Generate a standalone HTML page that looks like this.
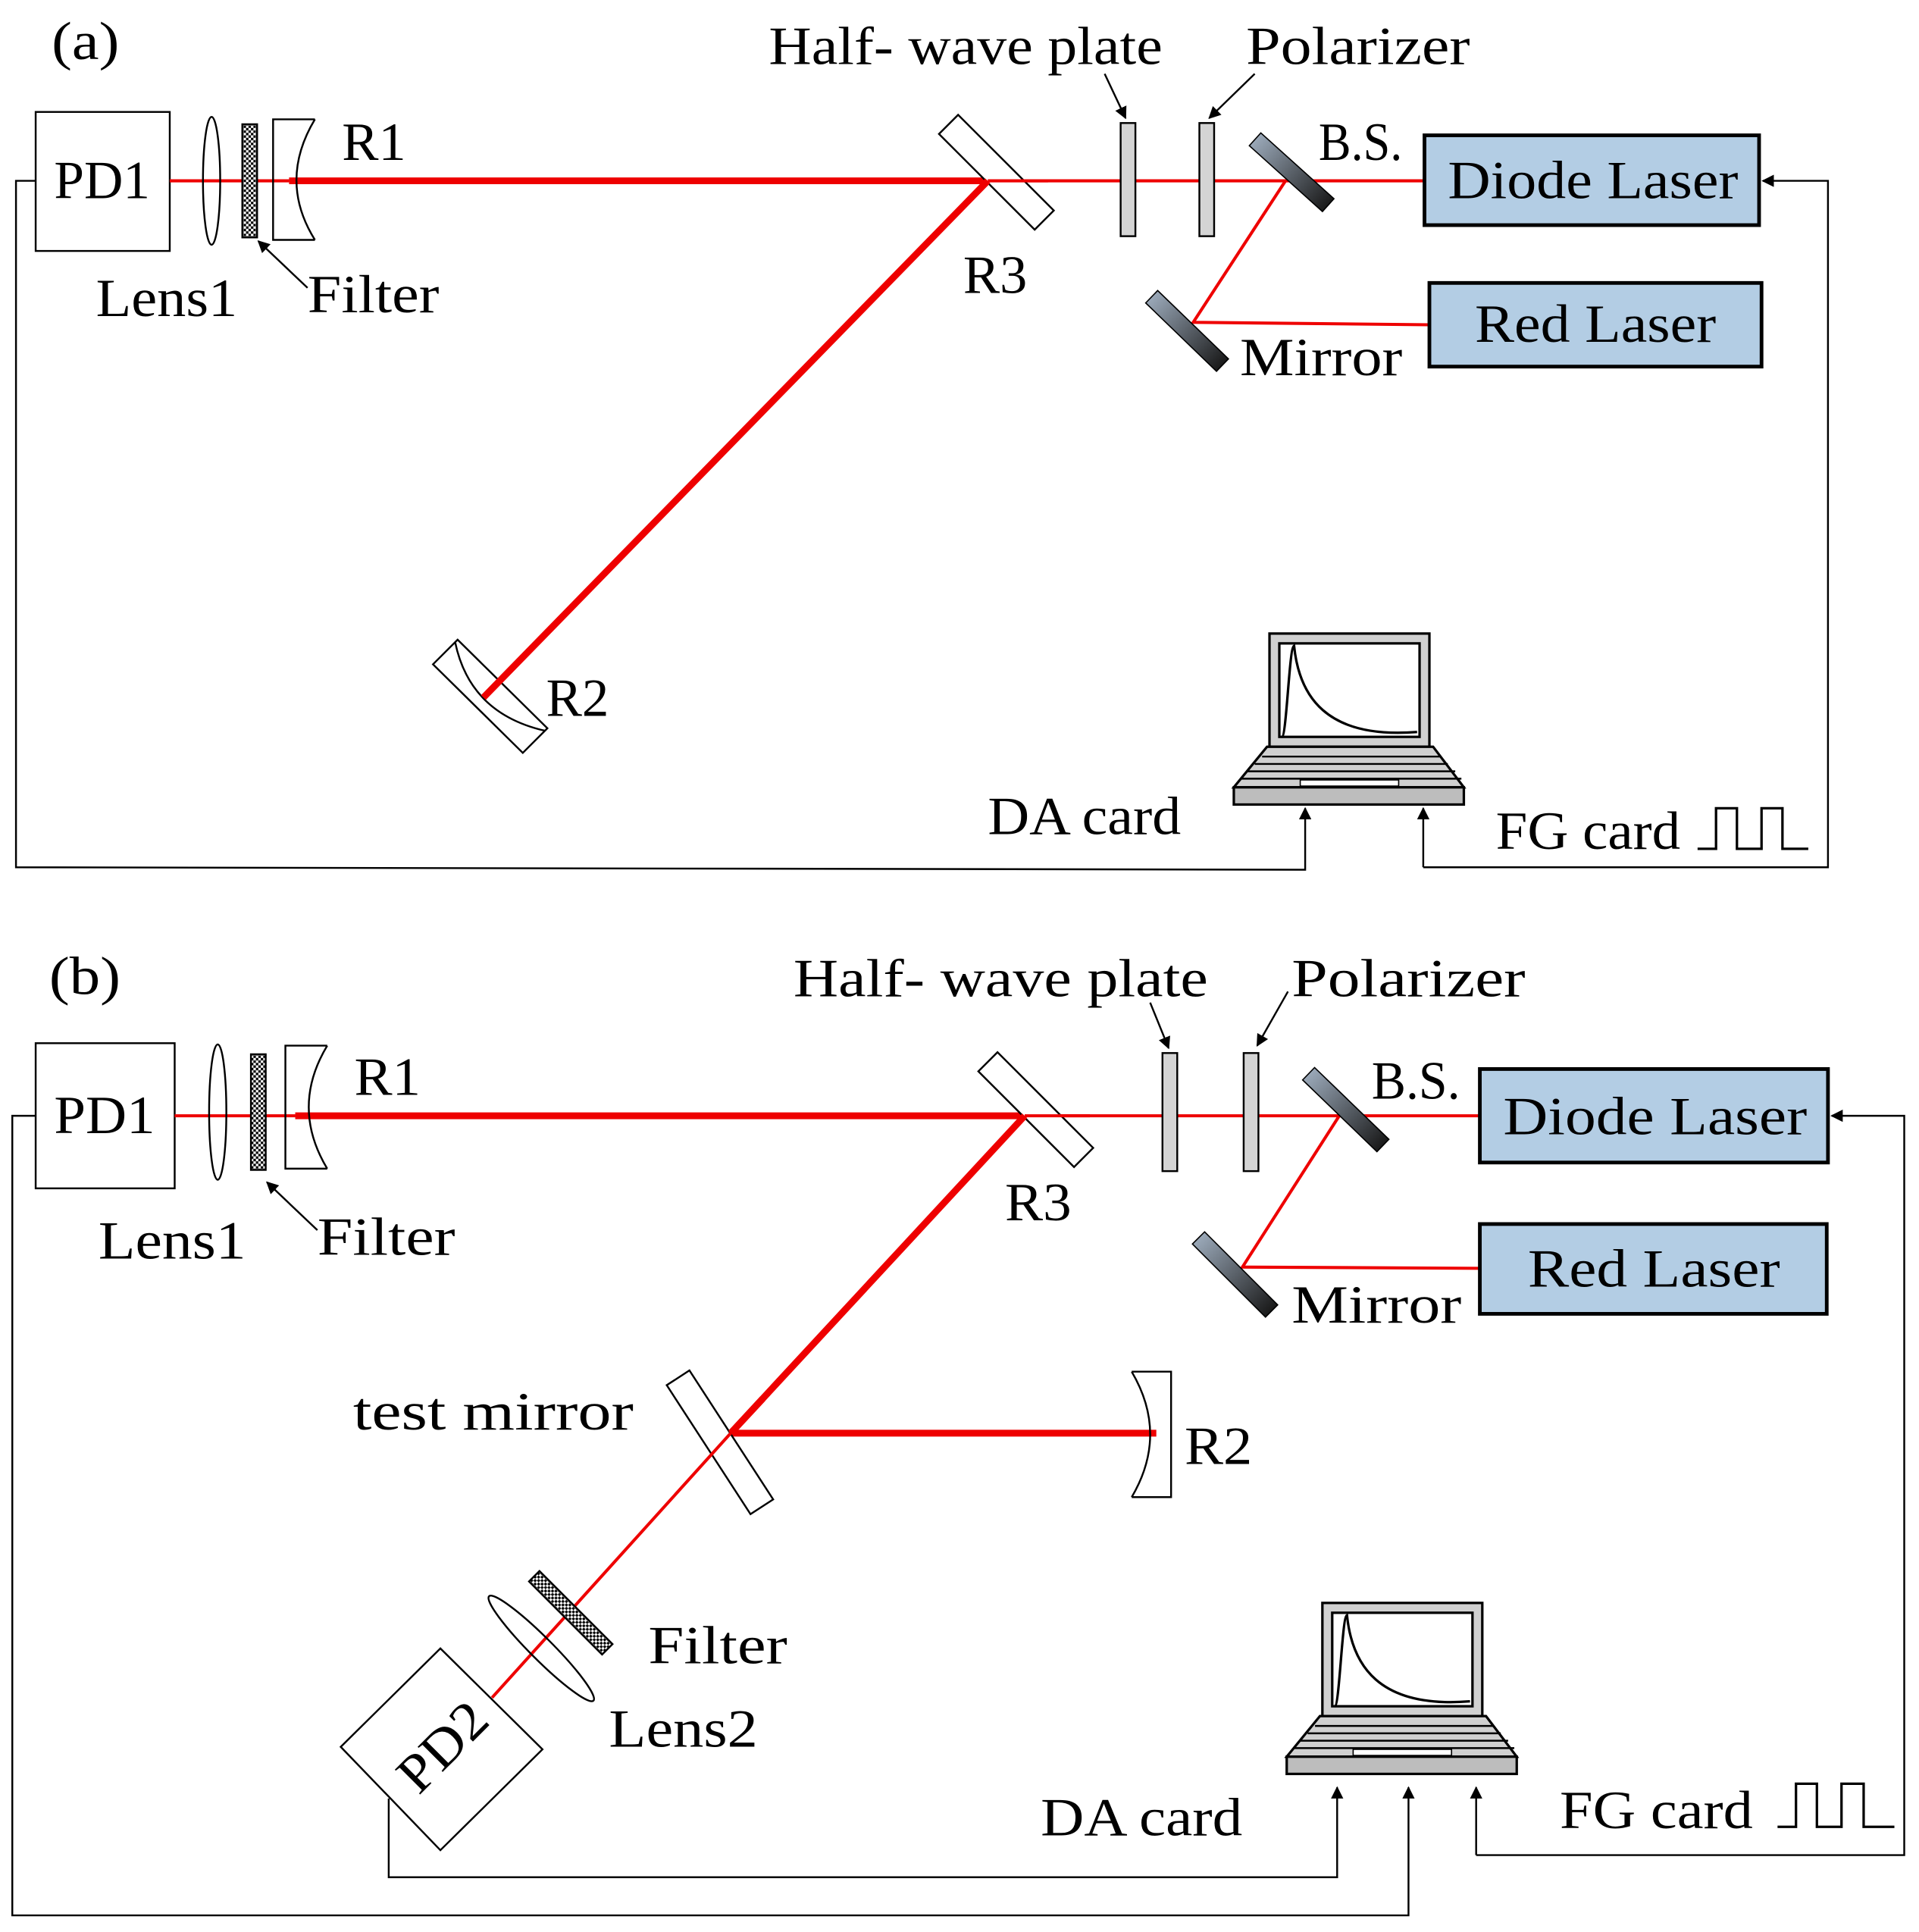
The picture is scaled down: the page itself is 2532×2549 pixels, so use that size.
<!DOCTYPE html>
<html><head><meta charset="utf-8"><style>
html,body{margin:0;padding:0;background:#fff;}
svg{display:block;}
text{font-family:"Liberation Serif",serif;font-size:44px;fill:#000;}
</style></head><body>
<svg width="2532" height="2549" viewBox="0 0 1560 1570.5" preserveAspectRatio="none" xmlns="http://www.w3.org/2000/svg">
<defs>
<pattern id="chk" width="4" height="4" patternUnits="userSpaceOnUse">
<rect width="4" height="4" fill="#fff"/><rect width="2" height="2" fill="#000"/><rect x="2" y="2" width="2" height="2" fill="#000"/>
</pattern>
<linearGradient id="bs" x1="0" y1="0" x2="1" y2="0">
<stop offset="0" stop-color="#9aa8b8"/><stop offset="1" stop-color="#1a1a1a"/>
</linearGradient>
<marker id="ar" markerWidth="10" markerHeight="10" refX="9" refY="5" orient="auto" markerUnits="userSpaceOnUse">
<path d="M0,0 L10,5 L0,10 Z" fill="#000"/>
</marker>
<g id="laptop">
<rect x="0" y="0" width="130" height="92" fill="#d0d0d0" stroke="#000" stroke-width="2"/>
<rect x="8" y="8" width="114" height="76" fill="#fff" stroke="#000" stroke-width="2"/>
<path d="M10,84 C14,84 16,10 20,10 C24,50 45,86 120,80" fill="none" stroke="#000" stroke-width="2"/>
<polygon points="-2,92 133,92 158,125 -29,125" fill="#d0d0d0" stroke="#000" stroke-width="2"/>
<path d="M-6,100 L139,100 M-12,106 L145,106 M-18,112 L151,112 M-23,118 L156,118" stroke="#000" stroke-width="1.5"/>
<rect x="25" y="119" width="80" height="5" fill="#fff" stroke="#000" stroke-width="1"/>
<rect x="-29" y="125" width="187" height="14" fill="#bdbdbd" stroke="#000" stroke-width="2"/>
</g>
</defs>

<!-- ============ (a) ============ -->
<text x="42" y="48" textLength="55" lengthAdjust="spacingAndGlyphs">(a)</text>
<rect x="29" y="91" width="109" height="113" fill="#fff" stroke="#000" stroke-width="1.5"/>
<text x="44" y="161" textLength="78" lengthAdjust="spacingAndGlyphs">PD1</text>
<line x1="138" y1="147" x2="235" y2="147" stroke="#e00" stroke-width="2.5"/>
<line x1="235" y1="147" x2="803" y2="147" stroke="#e00" stroke-width="5.5"/>
<line x1="803" y1="147" x2="1160" y2="147" stroke="#e00" stroke-width="2.5"/>
<ellipse cx="172" cy="147" rx="7" ry="52" fill="none" stroke="#000" stroke-width="1.5"/>
<rect x="197" y="101" width="12" height="92" fill="url(#chk)" stroke="#000" stroke-width="1.5"/>
<path d="M256,97 L222,97 L222,195 L256,195 M256,97 Q226,147 256,195" fill="none" stroke="#000" stroke-width="1.5"/>
<rect x="755" y="129" width="110" height="22" fill="#fff" stroke="#000" stroke-width="1.5" transform="rotate(45 810 140)"/>
<line x1="803" y1="147" x2="852" y2="147" stroke="#e00" stroke-width="2.5"/>
<path d="M352,540 L372,520 L445,592 L425,612 Z" fill="#fff" stroke="#000" stroke-width="1.5"/>
<path d="M370,522 Q382,580 443,594" fill="none" stroke="#000" stroke-width="1.5"/>
<line x1="803" y1="147" x2="393" y2="567" stroke="#e00" stroke-width="5.5"/>
<rect x="911" y="100" width="12" height="92" fill="#d4d4d4" stroke="#000" stroke-width="1.5"/>
<rect x="975" y="100" width="12" height="92" fill="#d4d4d4" stroke="#000" stroke-width="1.5"/>
<polyline points="1045,147 970,262 1162,264" fill="none" stroke="#e00" stroke-width="2.5"/>
<rect x="1010" y="133" width="80" height="14" fill="url(#bs)" stroke="#000" stroke-width="1" transform="rotate(42 1050 140)"/>
<rect x="925" y="262" width="80" height="14" fill="url(#bs)" stroke="#000" stroke-width="1" transform="rotate(44 965 269)"/>
<rect x="1158" y="110" width="272" height="73" fill="#b3cde4" stroke="#000" stroke-width="3"/>
<text x="1177" y="161" textLength="236" lengthAdjust="spacingAndGlyphs">Diode Laser</text>
<rect x="1162" y="230" width="270" height="68" fill="#b3cde4" stroke="#000" stroke-width="3"/>
<text x="1199" y="278" textLength="196" lengthAdjust="spacingAndGlyphs">Red Laser</text>
<text x="625" y="52" textLength="320" lengthAdjust="spacingAndGlyphs">Half- wave plate</text>
<text x="1013" y="52" textLength="182" lengthAdjust="spacingAndGlyphs">Polarizer</text>
<line x1="898" y1="60" x2="915" y2="96" stroke="#000" stroke-width="1.5" marker-end="url(#ar)"/>
<line x1="1020" y1="60" x2="983" y2="96" stroke="#000" stroke-width="1.5" marker-end="url(#ar)"/>
<text x="278" y="130" textLength="52" lengthAdjust="spacingAndGlyphs">R1</text>
<text x="1072" y="130" textLength="68" lengthAdjust="spacingAndGlyphs">B.S.</text>
<text x="783" y="238" textLength="52" lengthAdjust="spacingAndGlyphs">R3</text>
<text x="78" y="257" textLength="115" lengthAdjust="spacingAndGlyphs">Lens1</text>
<text x="250" y="254" textLength="107" lengthAdjust="spacingAndGlyphs">Filter</text>
<line x1="250" y1="234" x2="210" y2="196" stroke="#000" stroke-width="1.5" marker-end="url(#ar)"/>
<text x="1008" y="305" textLength="132" lengthAdjust="spacingAndGlyphs">Mirror</text>
<text x="444" y="582" textLength="51" lengthAdjust="spacingAndGlyphs">R2</text>
<text x="803" y="678" textLength="157" lengthAdjust="spacingAndGlyphs">DA card</text>
<text x="1216" y="690" textLength="150" lengthAdjust="spacingAndGlyphs">FG card</text>
<use href="#laptop" x="1032" y="515"/>
<polyline points="29,147 13,147 13,705 1061,707 1061,657" fill="none" stroke="#000" stroke-width="1.5" marker-end="url(#ar)"/>
<polyline points="1157,705 1157,657" fill="none" stroke="#000" stroke-width="1.5" marker-end="url(#ar)"/>
<polyline points="1157,705 1486,705 1486,147 1433,147" fill="none" stroke="#000" stroke-width="1.5" marker-end="url(#ar)"/>
<polyline points="1380,690 1395,690 1395,657 1412,657 1412,690 1432,690 1432,657 1449,657 1449,690 1470,690" fill="none" stroke="#000" stroke-width="2"/>

<!-- ============ (b) ============ -->
<text x="40" y="808" textLength="58" lengthAdjust="spacingAndGlyphs">(b)</text>
<rect x="29" y="848" width="113" height="118" fill="#fff" stroke="#000" stroke-width="1.5"/>
<text x="44" y="921" textLength="82" lengthAdjust="spacingAndGlyphs">PD1</text>
<line x1="142" y1="907" x2="240" y2="907" stroke="#e00" stroke-width="2.5"/>
<line x1="240" y1="907" x2="833" y2="907" stroke="#e00" stroke-width="5.5"/>
<line x1="833" y1="907" x2="1203" y2="907" stroke="#e00" stroke-width="2.5"/>
<ellipse cx="177" cy="904" rx="7" ry="55" fill="none" stroke="#000" stroke-width="1.5"/>
<rect x="204" y="857" width="12" height="94" fill="url(#chk)" stroke="#000" stroke-width="1.5"/>
<path d="M266,850 L232,850 L232,950 L266,950 M266,850 Q236,900 266,950" fill="none" stroke="#000" stroke-width="1.5"/>
<rect x="787" y="891" width="110" height="22" fill="#fff" stroke="#000" stroke-width="1.5" transform="rotate(45 842 902)"/>
<line x1="833" y1="907" x2="886" y2="907" stroke="#e00" stroke-width="2.5"/>
<line x1="833" y1="907" x2="594" y2="1165" stroke="#e00" stroke-width="5.5"/>
<line x1="594" y1="1165" x2="940" y2="1165" stroke="#e00" stroke-width="5.5"/>
<path d="M920,1115 L952,1115 L952,1217 L920,1217 M920,1115 Q950,1166 920,1217" fill="none" stroke="#000" stroke-width="1.5"/>
<rect x="523" y="1161" width="125" height="22" fill="#fff" stroke="#000" stroke-width="1.5" transform="rotate(57 585 1172)"/>
<line x1="594" y1="1165" x2="400" y2="1380" stroke="#e00" stroke-width="2.5"/>
<line x1="594" y1="1165" x2="620" y2="1137" stroke="#e00" stroke-width="5.5"/>
<rect x="422" y="1305" width="84" height="12" fill="url(#chk)" stroke="#000" stroke-width="1.5" transform="rotate(45 464 1311)"/>
<ellipse cx="440" cy="1340" rx="9" ry="60" fill="none" stroke="#000" stroke-width="1.5" transform="rotate(-45 440 1340)"/>
<polygon points="277,1420 358,1340 441,1422 358,1504" fill="#fff" stroke="#000" stroke-width="1.5"/>
<text x="318" y="1436" textLength="84" lengthAdjust="spacingAndGlyphs" transform="rotate(-45 358 1421)">PD2</text>
<rect x="945" y="856" width="12" height="96" fill="#d4d4d4" stroke="#000" stroke-width="1.5"/>
<rect x="1011" y="856" width="12" height="96" fill="#d4d4d4" stroke="#000" stroke-width="1.5"/>
<polyline points="1090,905 1010,1030 1203,1031" fill="none" stroke="#e00" stroke-width="2.5"/>
<rect x="1052" y="895" width="84" height="14" fill="url(#bs)" stroke="#000" stroke-width="1" transform="rotate(44 1094 902)"/>
<rect x="962" y="1029" width="84" height="14" fill="url(#bs)" stroke="#000" stroke-width="1" transform="rotate(45 1004 1036)"/>
<rect x="1203" y="869" width="283" height="76" fill="#b3cde4" stroke="#000" stroke-width="3"/>
<text x="1222" y="922" textLength="247" lengthAdjust="spacingAndGlyphs">Diode Laser</text>
<rect x="1203" y="995" width="282" height="73" fill="#b3cde4" stroke="#000" stroke-width="3"/>
<text x="1242" y="1046" textLength="205" lengthAdjust="spacingAndGlyphs">Red Laser</text>
<text x="645" y="810" textLength="337" lengthAdjust="spacingAndGlyphs">Half- wave plate</text>
<text x="1050" y="810" textLength="190" lengthAdjust="spacingAndGlyphs">Polarizer</text>
<line x1="935" y1="815" x2="950" y2="852" stroke="#000" stroke-width="1.5" marker-end="url(#ar)"/>
<line x1="1047" y1="806" x2="1022" y2="850" stroke="#000" stroke-width="1.5" marker-end="url(#ar)"/>
<text x="288" y="890" textLength="54" lengthAdjust="spacingAndGlyphs">R1</text>
<text x="1115" y="893" textLength="72" lengthAdjust="spacingAndGlyphs">B.S.</text>
<text x="817" y="992" textLength="54" lengthAdjust="spacingAndGlyphs">R3</text>
<text x="80" y="1023" textLength="120" lengthAdjust="spacingAndGlyphs">Lens1</text>
<text x="258" y="1020" textLength="112" lengthAdjust="spacingAndGlyphs">Filter</text>
<line x1="258" y1="1000" x2="217" y2="961" stroke="#000" stroke-width="1.5" marker-end="url(#ar)"/>
<text x="1050" y="1075" textLength="138" lengthAdjust="spacingAndGlyphs">Mirror</text>
<text x="287" y="1162" textLength="228" lengthAdjust="spacingAndGlyphs">test mirror</text>
<text x="963" y="1190" textLength="55" lengthAdjust="spacingAndGlyphs">R2</text>
<text x="527" y="1352" textLength="113" lengthAdjust="spacingAndGlyphs">Filter</text>
<text x="495" y="1420" textLength="121" lengthAdjust="spacingAndGlyphs">Lens2</text>
<text x="846" y="1492" textLength="164" lengthAdjust="spacingAndGlyphs">DA card</text>
<text x="1268" y="1486" textLength="157" lengthAdjust="spacingAndGlyphs">FG card</text>
<use href="#laptop" x="1075" y="1303"/>
<polyline points="316,1462 316,1526 1087,1526 1087,1453" fill="none" stroke="#000" stroke-width="1.5" marker-end="url(#ar)"/>
<polyline points="29,907 10,907 10,1557 1145,1557 1145,1453" fill="none" stroke="#000" stroke-width="1.5" marker-end="url(#ar)"/>
<polyline points="1200,1508 1200,1453" fill="none" stroke="#000" stroke-width="1.5" marker-end="url(#ar)"/>
<polyline points="1200,1508 1548,1508 1548,907 1489,907" fill="none" stroke="#000" stroke-width="1.5" marker-end="url(#ar)"/>
<polyline points="1445,1485 1460,1485 1460,1450 1477,1450 1477,1485 1497,1485 1497,1450 1515,1450 1515,1485 1540,1485" fill="none" stroke="#000" stroke-width="2"/>
</svg>
</body></html>
